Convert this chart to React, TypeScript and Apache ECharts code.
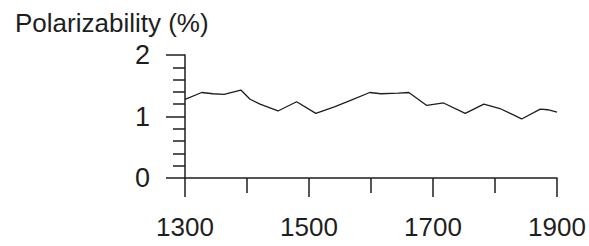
import React, { useEffect, useRef } from "react";
import * as echarts from "echarts";

const years = [1300, 1327, 1345, 1363, 1390, 1405, 1421, 1450, 1480, 1511, 1542, 1571, 1598, 1616, 1644, 1661, 1690, 1717, 1752, 1782, 1808, 1843, 1873, 1885, 1900];
const polarizability = [1.28, 1.39, 1.37, 1.36, 1.43, 1.28, 1.2, 1.09, 1.24, 1.05, 1.16, 1.28, 1.39, 1.37, 1.38, 1.39, 1.18, 1.22, 1.05, 1.2, 1.13, 0.96, 1.12, 1.11, 1.07];
const xMajorTicks = [1300, 1500, 1700, 1900];
const xMinorTicks = [1400, 1600, 1800];
const yTicks = [0, 1, 2];
const titleText = "Polarizability (%)";

const FONT = "Liberation Sans, Arial, sans-serif";
const INK = "#1e1e1e";

export default function App() {
  const ref = useRef<HTMLDivElement>(null);
  useEffect(() => {
    if (!ref.current) return;
    const chart = echarts.init(ref.current, null, { renderer: "svg" });
    chart.setOption({
      animation: false,
      backgroundColor: "#ffffff",
      title: {
        text: titleText,
        left: 15,
        top: 10,
        padding: 0,
        textStyle: { fontFamily: FONT, fontSize: 26, fontWeight: "normal", color: INK },
      },
      grid: { left: 185, right: 32, top: 55, bottom: 68, containLabel: false },
      xAxis: [
        {
          type: "value",
          min: 1300,
          max: 1900,
          splitLine: { show: false },
          axisLine: { show: true, lineStyle: { color: INK, width: 1.5 } },
          axisTick: { show: true, length: 19, customValues: xMajorTicks, lineStyle: { color: INK, width: 1.5 } },
          axisLabel: {
            customValues: xMajorTicks,
            formatter: (v: number) => String(v),
            margin: 36,
            fontFamily: FONT,
            fontSize: 26,
            color: INK,
            showMinLabel: true,
            showMaxLabel: true,
          },
        },
        {
          type: "value",
          min: 1300,
          max: 1900,
          position: "bottom",
          splitLine: { show: false },
          axisLine: { show: false },
          axisTick: { show: true, length: 15, customValues: xMinorTicks, lineStyle: { color: INK, width: 1.5 } },
          axisLabel: { show: false },
        },
      ],
      yAxis: {
        type: "value",
        min: 0,
        max: 2,
        interval: 1,
        splitLine: { show: false },
        axisLine: { show: true, lineStyle: { color: INK, width: 1.5 } },
        axisTick: { show: true, length: 19, customValues: yTicks, lineStyle: { color: INK, width: 1.5 } },
        minorTick: { show: true, splitNumber: 5, length: 12, lineStyle: { color: INK, width: 1.5 } },
        axisLabel: {
          customValues: yTicks,
          formatter: (v: number) => String(v),
          margin: 35,
          fontFamily: FONT,
          fontSize: 27,
          color: INK,
        },
      },
      series: [
        {
          type: "line",
          data: years.map((y, i) => [y, polarizability[i]]),
          showSymbol: false,
          symbol: "none",
          lineStyle: { color: INK, width: 1.3 },
          xAxisIndex: 0,
        },
      ],
    });
    return () => chart.dispose();
  }, []);
  return <div ref={ref} style={{ width: 589, height: 246, position: "absolute", left: 0, top: 0 }} />;
}
